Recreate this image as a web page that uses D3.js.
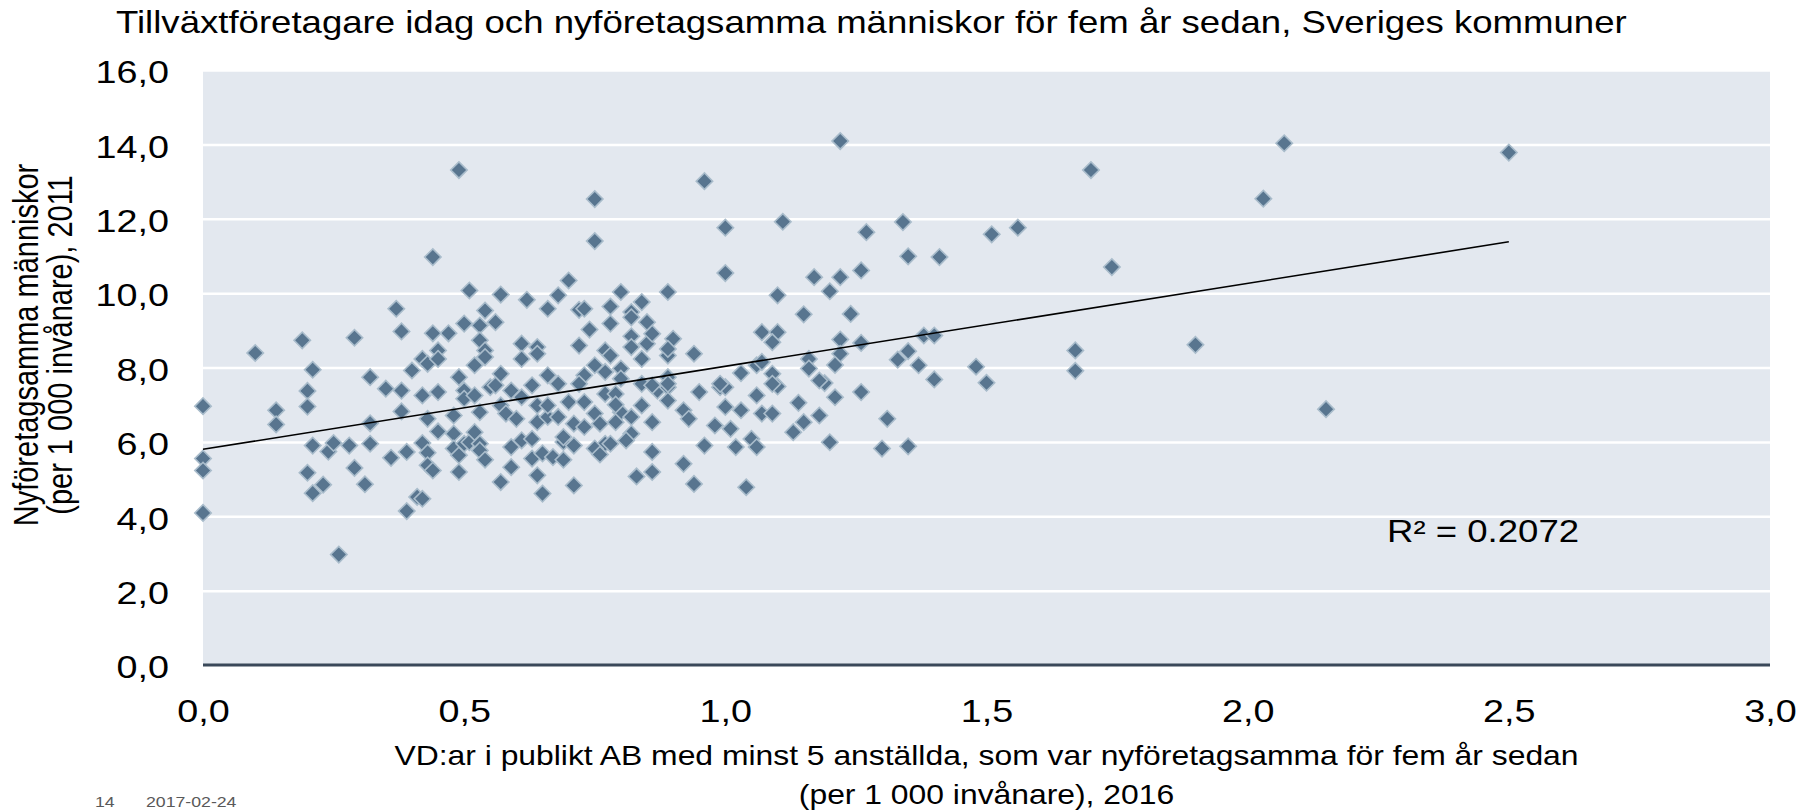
<!DOCTYPE html>
<html>
<head>
<meta charset="utf-8">
<script src="https://cdn.jsdelivr.net/npm/d3@7"></script>
<style>
  html, body { margin: 0; padding: 0; background: #ffffff; }
  svg { display: block; font-family: "Liberation Sans", Arial, sans-serif; }
</style>
</head>
<body>
<svg id="chart" width="1800" height="811"></svg>
<script>
// ---- Data ----
const chartTitle = "Tillväxtföretagare idag och nyföretagsamma människor för fem år sedan, Sveriges kommuner";
const yTitleLines = ["Nyföretagsamma människor", "(per 1 000 invånare), 2011"];
const xTitleLines = ["VD:ar i publikt AB med minst 5 anställda, som var nyföretagsamma för fem år sedan", "(per 1 000 invånare), 2016"];
const footerPage = "14";
const footerDate = "2017-02-24";
const rSquaredLabel = "R² = 0.2072";

const xTicks = [0, 0.5, 1.0, 1.5, 2.0, 2.5, 3.0];
const yTicks = [0, 2, 4, 6, 8, 10, 12, 14, 16];

// VD:ar i publikt AB ... (per 1 000 invånare), 2016
const xValues = [
  0.44,0.51,0.57,0.62,0.66,0.68,0.70,0.72,0.73,0.74,
  0.37,0.38,0.29,0.19,0.10,0.21,0.20,0.20,0.14,0.14,
  0.00,0.00,0.00,0.00,0.26,0.20,0.21,0.23,0.21,0.24,
  0.25,0.28,0.29,0.31,0.32,0.32,0.32,0.35,0.38,0.38,
  0.36,0.39,0.39,0.41,0.42,0.40,0.42,0.43,0.45,0.45,
  0.42,0.45,0.43,0.45,0.42,0.43,0.43,0.44,0.47,0.44,
  0.50,0.53,0.54,0.56,0.53,0.54,0.54,0.52,0.49,0.50,
  0.50,0.52,0.55,0.56,0.57,0.59,0.48,0.48,0.48,0.49,
  0.49,0.50,0.51,0.52,0.53,0.53,0.54,0.53,0.57,0.58,
  0.60,0.57,0.59,0.59,0.61,0.63,0.63,0.64,0.65,0.65,
  0.67,0.69,0.64,0.66,0.68,0.63,0.61,0.64,0.66,0.66,
  0.68,0.61,0.64,0.64,0.61,0.72,0.70,0.71,0.69,0.71,
  0.71,0.73,0.73,0.73,0.49,0.75,0.75,0.96,1.00,1.11,
  1.22,1.27,1.00,1.10,1.17,1.22,1.26,1.20,1.35,1.41,
  1.15,1.24,1.07,1.10,1.09,1.22,1.26,1.38,1.40,1.35,
  1.33,1.37,1.40,1.16,1.16,1.22,1.21,1.06,1.07,1.03,
  1.09,1.10,1.19,1.21,1.26,1.06,0.95,0.99,1.00,0.94,
  0.90,0.89,0.89,0.80,0.84,0.82,0.85,0.78,0.78,0.82,
  0.85,0.82,0.86,0.84,0.77,0.78,0.75,0.77,0.80,0.80,
  0.84,0.87,0.89,0.89,0.89,0.77,0.79,0.84,0.80,0.79,
  0.82,0.75,0.76,0.86,0.92,0.93,1.00,1.03,0.98,1.01,
  1.07,1.09,1.14,1.18,1.15,1.13,1.31,1.20,1.30,1.35,
  0.96,1.02,1.05,1.06,1.04,0.94,0.92,0.86,0.86,0.83,
  0.77,0.75,0.76,0.78,0.82,0.81,0.79,0.89,0.86,0.89,
  0.99,1.18,1.09,0.82,2.07,2.50,1.70,2.03,1.56,1.51,
  1.74,1.90,1.67,1.67,1.48,1.50,2.15,1.34,0.72,0.69
];
// Nyföretagsamma människor (per 1 000 invånare), 2011
const yValues = [
  10.97,10.07,9.96,9.82,9.58,9.94,10.34,9.55,9.58,9.02,
  9.58,8.97,8.80,8.73,8.39,7.94,7.37,6.95,6.85,6.47,
  6.96,5.55,5.23,4.09,2.97,5.17,4.62,4.85,5.90,5.74,
  5.97,5.90,5.30,4.86,5.95,7.74,6.50,7.43,7.38,6.82,
  5.57,5.73,4.14,4.52,4.47,7.92,8.23,8.10,8.46,8.23,
  7.25,7.34,6.62,6.28,5.97,5.71,5.37,5.23,8.92,8.92,
  9.18,9.13,9.53,9.22,8.73,8.46,8.28,8.06,7.74,7.38,
  7.16,7.25,7.47,7.52,7.83,7.38,6.71,6.22,5.82,5.64,
  5.19,5.95,5.99,6.26,5.95,5.77,5.52,6.80,6.98,6.76,
  6.62,4.92,5.86,5.32,6.04,6.08,5.55,5.10,4.61,5.69,
  5.59,5.52,6.53,6.67,6.67,7.52,7.20,6.98,6.98,7.79,
  7.56,8.64,8.55,8.37,8.23,8.59,7.07,4.83,6.00,5.90,
  6.49,6.40,7.79,7.07,13.31,12.53,11.40,13.01,11.76,11.92,
  14.09,11.64,10.54,9.94,10.43,10.43,10.61,10.05,10.99,10.97,
  9.43,9.44,8.95,8.95,8.68,8.75,8.66,8.86,8.86,8.44,
  8.21,8.06,7.68,8.23,7.97,8.37,8.07,8.06,8.15,7.85,
  7.83,7.49,7.58,7.20,7.34,7.25,7.34,7.47,7.47,8.37,
  8.77,8.32,10.03,10.03,9.76,9.49,9.22,9.64,9.18,8.84,
  8.64,8.55,8.91,8.23,8.46,8.32,8.06,7.88,7.97,7.70,
  7.56,7.38,7.47,7.74,7.11,7.29,7.29,6.98,6.80,6.53,
  6.67,6.76,6.49,6.53,6.85,6.62,6.94,6.85,6.44,6.35,
  6.76,6.76,7.05,6.71,6.53,6.26,6.62,5.99,5.82,5.88,
  5.90,5.86,6.08,5.86,4.78,4.87,5.41,5.73,5.19,5.07,
  5.95,5.82,5.66,5.95,6.22,6.04,7.00,8.50,7.52,7.56,
  7.56,7.65,7.56,9.35,14.03,13.78,13.31,12.54,11.76,11.58,
  10.70,8.61,8.46,7.91,8.02,7.59,6.88,11.91,7.56,6.13
];
// Linear trend line: [x, y] at its two ends
const trendX = [0, 2.5];
const trendY = [5.80, 11.38];

// ---- Layout ----
const SX = 1.18; // the reference text is drawn slightly wide
const svg = d3.select("#chart");
const plot = { left: 203, right: 1770, top: 70, bottom: 665 };

const x = d3.scaleLinear().domain([0, 3]).range([plot.left, plot.right]);
const y = d3.scaleLinear().domain([0, 16]).range([plot.bottom, plot.top]);

const fmt = v => d3.format(".1f")(v).replace(".", ",");

function wideText(parent, px, py, str, size, anchor, fill) {
  return parent.append("text")
    .attr("transform", `translate(${px},${py}) scale(${SX},1)`)
    .attr("text-anchor", anchor || "start")
    .attr("font-size", size)
    .attr("fill", fill || "#000")
    .text(str);
}

// plot background
svg.append("rect")
  .attr("x", plot.left).attr("y", plot.top)
  .attr("width", plot.right - plot.left).attr("height", plot.bottom - plot.top)
  .attr("fill", "#e3e8ef");

// gridlines
const yAxisGrid = d3.axisLeft(y).tickValues(yTicks.filter(v => v > 0))
  .tickSize(-(plot.right - plot.left)).tickFormat("");
svg.append("g").attr("transform", `translate(${plot.left},0)`).call(yAxisGrid)
  .call(g => g.select(".domain").remove())
  .call(g => g.selectAll("line").attr("stroke", "#ffffff").attr("stroke-width", 2.5));

// y tick labels
const yAxis = d3.axisLeft(y).tickValues(yTicks).tickSize(0).tickPadding(34 / SX).tickFormat(fmt);
svg.append("g").attr("transform", `translate(${plot.left},0)`).call(yAxis)
  .call(g => g.select(".domain").remove())
  .call(g => g.selectAll("text")
    .attr("transform", `scale(${SX},1)`)
    .attr("dy", "0.4em")
    .attr("font-family", "Liberation Sans, Arial, sans-serif")
    .attr("font-size", 32).attr("fill", "#000"));

// x tick labels
const xAxis = d3.axisBottom(x).tickValues(xTicks).tickSize(0).tickPadding(34).tickFormat(fmt);
svg.append("g").attr("transform", `translate(0,${plot.bottom})`).call(xAxis)
  .call(g => g.select(".domain").remove())
  .call(g => g.selectAll("text")
    .attr("transform", `scale(${SX},1)`)
    .attr("font-family", "Liberation Sans, Arial, sans-serif")
    .attr("font-size", 32).attr("fill", "#000"));

// zero axis line
svg.append("line")
  .attr("x1", x(0)).attr("x2", x(3))
  .attr("y1", y(0)).attr("y2", y(0))
  .attr("stroke", "#3a4859").attr("stroke-width", 3);

// points
const points = xValues.map((v, i) => ({ x: v, y: yValues[i] }));
const diamond = d3.symbol().type(d3.symbolSquare).size(135);
svg.append("g").selectAll("path").data(points).join("path")
  .attr("d", diamond)
  .attr("transform", d => `translate(${x(d.x)},${y(d.y)}) rotate(45)`)
  .attr("fill", "#58758f")
  .attr("stroke", "#a9bccb")
  .attr("stroke-width", 1.6);

// trend line
const trend = trendX.map((v, i) => [v, trendY[i]]);
svg.append("path")
  .datum(trend)
  .attr("d", d3.line().x(d => x(d[0])).y(d => y(d[1])))
  .attr("fill", "none").attr("stroke", "#000").attr("stroke-width", 1.6);

// R² label
wideText(svg, 1387, 542, rSquaredLabel, 31);

// title
wideText(svg, 116, 33, chartTitle, 31);

// y axis title (rotated, two lines, glyphs widened across)
const yt = svg.append("text")
  .attr("transform", `translate(0,345) scale(${SX},1) rotate(-90)`)
  .attr("text-anchor", "middle")
  .attr("font-size", 29).attr("fill", "#000");
yt.append("tspan").attr("x", 0).attr("y", 38 / SX).text(yTitleLines[0]);
yt.append("tspan").attr("x", 0).attr("y", 72 / SX).text(yTitleLines[1]);

// x axis title (two lines, centred on the plot)
const xMid = (plot.left + plot.right) / 2;
wideText(svg, xMid, 765, xTitleLines[0], 27, "middle");
wideText(svg, xMid, 804, xTitleLines[1], 27, "middle");

// footer
wideText(svg, 95, 807, footerPage, 15, "start", "#595959");
wideText(svg, 146, 807, footerDate, 15, "start", "#595959");
</script>
</body>
</html>
